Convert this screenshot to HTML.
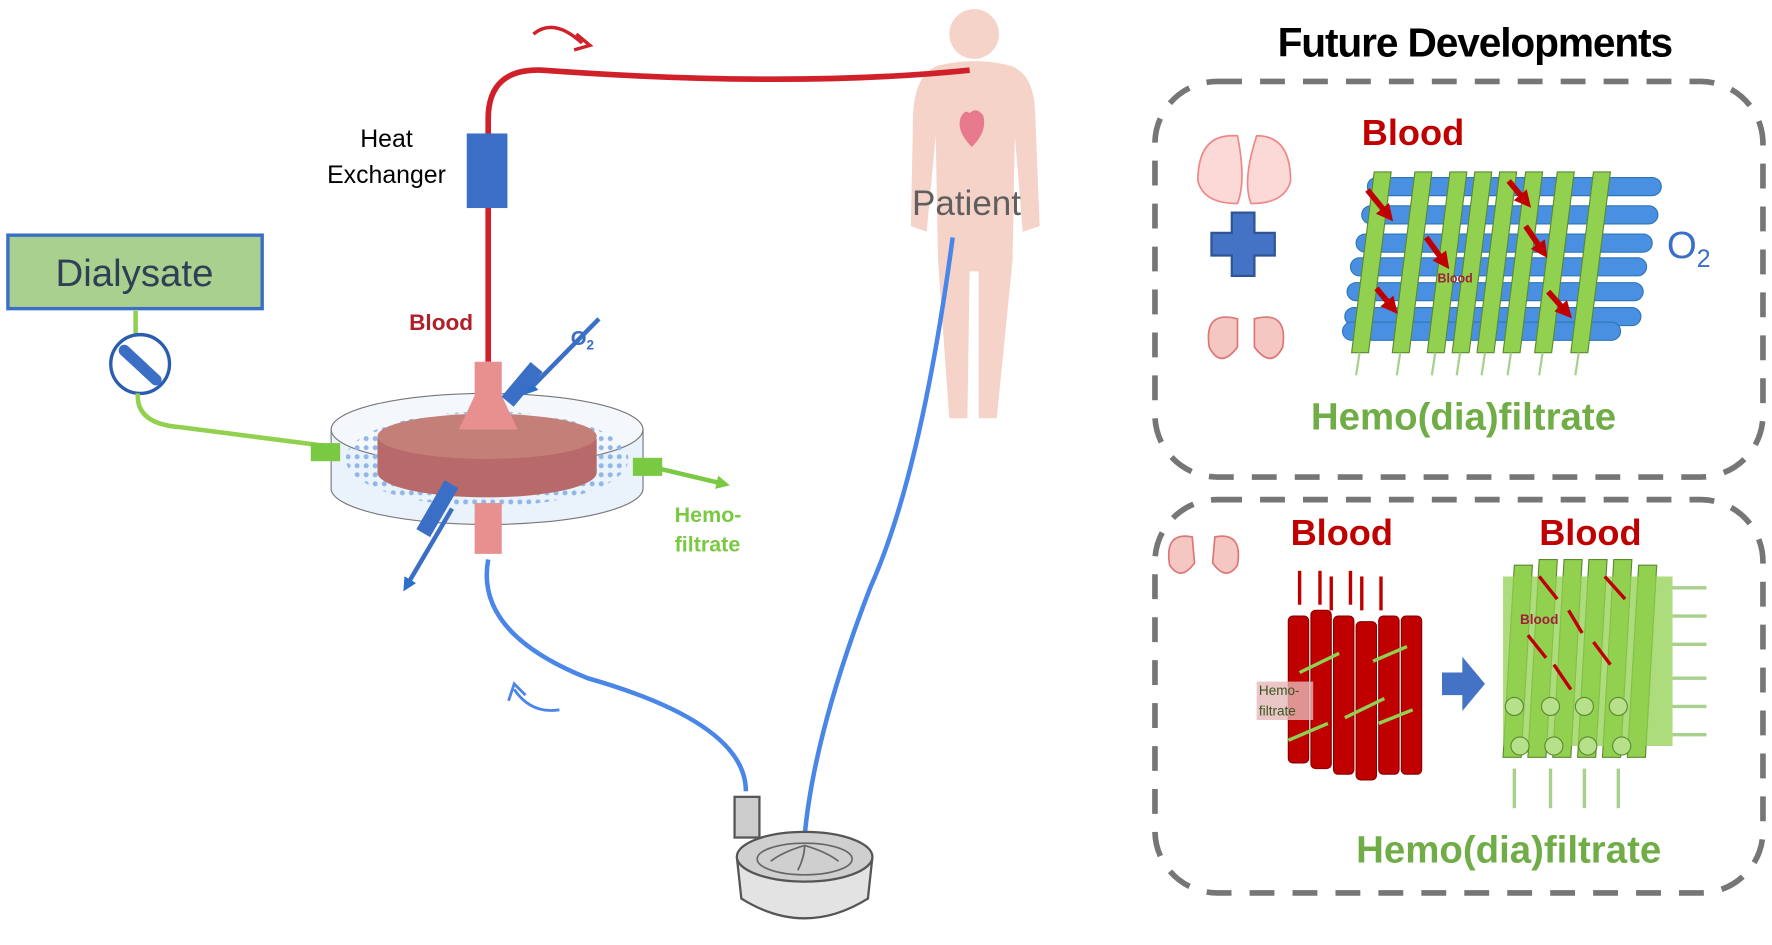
<!DOCTYPE html>
<html><head><meta charset="utf-8"><style>body{margin:0;background:#fff}svg{display:block}text{font-family:"Liberation Sans",sans-serif}</style></head><body>
<svg width="1772" height="945" viewBox="0 0 1568 836" xmlns="http://www.w3.org/2000/svg">
<defs>
<marker id="ab" markerWidth="3" markerHeight="3" refX="1.5" refY="1.5" orient="auto"><path d="M0,0L3,1.5L0,3z" fill="#2a6fc9"/></marker>
<marker id="ag" markerWidth="3" markerHeight="3" refX="1.5" refY="1.5" orient="auto"><path d="M0,0L3,1.5L0,3z" fill="#7ac943"/></marker>
<marker id="ar" markerWidth="3" markerHeight="3" refX="1.5" refY="1.5" orient="auto"><path d="M0,0L3,1.5L0,3z" fill="#c00000"/></marker>
<pattern id="dots" width="8" height="8" patternUnits="userSpaceOnUse"><circle cx="4" cy="4" r="2.2" fill="#8fb8e8"/></pattern>
</defs>
<!-- patient -->
<g fill="#f6d3c8">
<circle cx="862" cy="30" r="22"/>
<path d="M830,58 Q862,50 894,58 Q915,65 916,100 L920,200 L905,205 L898,120 L896,230 L882,370 L866,370 L866,240 L858,240 L856,370 L840,370 L830,230 L828,120 L820,205 L806,200 L808,100 Q810,65 830,58z"/>
</g>
<path d="M858,100 q6,-6 12,2 q4,14 -10,28 q-14,-14 -10,-26 q4,-8 8,-4z" fill="#e77b8d"/>
<text x="807" y="190" font-size="31" fill="#5f5f5f">Patient</text>
<!-- red tubing -->
<path d="M432,120 L432,105 Q432,60 480,62 Q700,78 858,62" fill="none" stroke="#d0202a" stroke-width="5"/>
<path d="M432,180 L432,320" stroke="#d0202a" stroke-width="5"/>
<rect x="413" y="118" width="36" height="66" fill="#3b6fc6"/>
<path d="M472,30 Q490,15 515,38" fill="none" stroke="#d0202a" stroke-width="3"/>
<path d="M510,30 L522,40 L508,44" fill="none" stroke="#d0202a" stroke-width="3"/>
<text x="342" y="130" font-size="22" text-anchor="middle">Heat</text>
<text x="342" y="162" font-size="22" text-anchor="middle">Exchanger</text>
<text x="362" y="292" font-size="20" font-weight="bold" fill="#b0202a">Blood</text>
<!-- blue tubing -->
<path d="M843,210 Q815,420 770,520 Q720,650 712,740" fill="none" stroke="#4a86e8" stroke-width="4"/>
<path d="M432,495 Q420,560 520,600 Q660,640 660,700" fill="none" stroke="#4a86e8" stroke-width="4"/>
<path d="M495,628 Q470,632 455,610" fill="none" stroke="#4a86e8" stroke-width="2.5"/>
<path d="M450,620 L455,605 L465,615" fill="none" stroke="#4a86e8" stroke-width="2.5"/>
<!-- pump -->
<path d="M652,758 L656,795 Q712,830 768,795 L772,758" fill="#e3e3e3" stroke="#555" stroke-width="2"/>
<ellipse cx="712" cy="758" rx="60" ry="22" fill="#cfcfcf" stroke="#555" stroke-width="2"/>
<ellipse cx="712" cy="760" rx="42" ry="14" fill="none" stroke="#666" stroke-width="1.5"/>
<path d="M712,748 q-20,6 -30,14 M712,748 q20,6 30,14 M712,748 q0,10 -6,22" fill="none" stroke="#666" stroke-width="1.5"/>
<rect x="650" y="705" width="22" height="36" fill="#ccc" stroke="#555" stroke-width="2"/>
<!-- Dialysate -->
<rect x="7" y="208" width="225" height="65" fill="#a9d08e" stroke="#3b6fc6" stroke-width="3"/>
<text x="119" y="253" font-size="34" text-anchor="middle" fill="#2f3f55">Dialysate</text>
<path d="M120,275 L120,300" stroke="#92d050" stroke-width="4"/>
<circle cx="124" cy="322" r="26" fill="#fff" stroke="#2a5db0" stroke-width="3"/>
<path d="M110,310 L138,336" stroke="#3b6fc6" stroke-width="10" stroke-linecap="round"/>
<path d="M122,348 Q120,375 160,378 L300,396" fill="none" stroke="#92d050" stroke-width="4"/>
<!-- device -->
<ellipse cx="431" cy="432" rx="138" ry="32" fill="#eaf2fb" stroke="#777"/>
<rect x="293" y="380" width="276" height="52" fill="#eaf2fb"/>
<ellipse cx="431" cy="380" rx="138" ry="32" fill="#f4f8fd" stroke="#777"/>
<ellipse cx="431" cy="406" rx="125" ry="42" fill="url(#dots)"/>
<line x1="293" y1="380" x2="293" y2="432" stroke="#777"/><line x1="569" y1="380" x2="569" y2="432" stroke="#777"/>
<ellipse cx="431" cy="418" rx="97" ry="22" fill="#b86a6a"/>
<rect x="334" y="388" width="194" height="30" fill="#b86a6a"/>
<ellipse cx="431" cy="386" rx="97" ry="20" fill="#c47f78"/>
<path d="M420,320 h24 v30 l14,30 h-52 l14,-30z" fill="#e8908f"/>
<rect x="420" y="445" width="24" height="45" fill="#e8908f"/>
<rect x="275" y="392" width="26" height="16" fill="#7ac943"/>
<rect x="560" y="405" width="26" height="16" fill="#7ac943"/>
<path d="M585,415 L640,428" stroke="#7ac943" stroke-width="4" marker-end="url(#ag)"/>
<path d="M530,282 L468,345" stroke="#3b6fc6" stroke-width="4" marker-end="url(#ab)"/>
<path d="M400,450 L360,518" stroke="#3b6fc6" stroke-width="4" marker-end="url(#ab)"/>
<rect x="380" y="425" width="14" height="50" fill="#3b6fc6" transform="rotate(30 387 450)"/>
<rect x="455" y="320" width="14" height="40" fill="#3b6fc6" transform="rotate(40 462 340)"/>
<text x="505" y="305" font-size="18" font-weight="bold" fill="#3b6fc6">O<tspan font-size="12" dy="4">2</tspan></text>
<text x="597" y="462" font-size="19" font-weight="bold" fill="#7ac943">Hemo-</text>
<text x="597" y="488" font-size="19" font-weight="bold" fill="#7ac943">filtrate</text>
<!-- right -->
<text x="1305" y="50" font-size="36" font-weight="bold" text-anchor="middle" letter-spacing="-1">Future Developments</text>
<rect x="1022" y="72" width="538" height="350" rx="55" fill="none" stroke="#767676" stroke-width="5" stroke-dasharray="22,16"/>
<rect x="1022" y="442" width="538" height="348" rx="55" fill="none" stroke="#767676" stroke-width="5" stroke-dasharray="22,16"/>
<text x="1205" y="128" font-size="32" font-weight="bold" fill="#c00000">Blood</text>
<text x="1475" y="228" font-size="34" fill="#3b6fc6">O<tspan font-size="22" dy="8">2</tspan></text>
<text x="1160" y="380" font-size="34" font-weight="bold" fill="#70ad47">Hemo(dia)filtrate</text>
<path d="M1090,120 q-30,0 -30,40 q5,20 35,20 q8,-20 0,-60z M1112,120 q30,0 30,40 q-5,20 -35,20 q-8,-20 5,-60z" fill="#fbd9d6" stroke="#e88" stroke-width="1.5"/>
<path d="M1090,188 h20 v18 h18 v20 h-18 v18 h-20 v-18 h-18 v-20 h18z" fill="#4472c4" stroke="#2f5597" stroke-width="2"/>
<path d="M1095,282 q-30,-8 -25,25 q10,20 25,0z M1110,282 q30,-8 25,25 q-10,20 -25,0z" fill="#f4c7c3" stroke="#d77" stroke-width="1.5"/>
<g stroke="#2e75b6" stroke-width="1">
<rect x="1210" y="157" width="260" height="16" rx="8" fill="#4a90e2"/>
<rect x="1205" y="182" width="262" height="16" rx="8" fill="#4a90e2"/>
<rect x="1200" y="207" width="262" height="16" rx="8" fill="#4a90e2"/>
<rect x="1195" y="228" width="262" height="16" rx="8" fill="#4a90e2"/>
<rect x="1192" y="250" width="262" height="16" rx="8" fill="#4a90e2"/>
<rect x="1190" y="272" width="262" height="16" rx="8" fill="#4a90e2"/>
<rect x="1188" y="285" width="246" height="16" rx="8" fill="#4a90e2"/>
</g>
<g fill="#92d050" stroke="#5a8a30" stroke-width="1">
<path d="M1216,152 l15,0 l-20,160 l-15,0z"/><path d="M1252,152 l15,0 l-20,160 l-15,0z"/>
<path d="M1283,152 l15,0 l-20,160 l-15,0z"/><path d="M1305,152 l15,0 l-20,160 l-15,0z"/>
<path d="M1327,152 l15,0 l-20,160 l-15,0z"/><path d="M1350,152 l15,0 l-20,160 l-15,0z"/>
<path d="M1378,152 l15,0 l-20,160 l-15,0z"/><path d="M1410,152 l15,0 l-20,160 l-15,0z"/>
</g>
<g stroke="#a9d18e" stroke-width="2"><path d="M1203,312 l-3,20"/><path d="M1239,312 l-3,20"/><path d="M1270,312 l-3,20"/><path d="M1292,312 l-3,20"/><path d="M1314,312 l-3,20"/><path d="M1337,312 l-3,20"/><path d="M1365,312 l-3,20"/><path d="M1397,312 l-3,20"/></g>
<g stroke="#c00000" stroke-width="5" marker-end="url(#ar)">
<path d="M1210,168 L1228,190"/><path d="M1262,210 L1278,232"/><path d="M1335,160 L1350,178"/><path d="M1218,255 L1232,272"/><path d="M1370,258 L1386,276"/><path d="M1350,200 L1365,222"/>
</g>
<text x="1272" y="250" font-size="11" font-weight="bold" fill="#a0203a">Blood</text>
<!-- bottom box -->
<text x="1142" y="482" font-size="32" font-weight="bold" fill="#c00000">Blood</text>
<text x="1362" y="482" font-size="32" font-weight="bold" fill="#c00000">Blood</text>
<path d="M1055,475 q-25,-5 -20,25 q10,15 22,-2z M1075,475 q25,-5 20,25 q-10,15 -22,-2z" fill="#f4c7c3" stroke="#d77" stroke-width="1.5"/>
<g fill="#c00000" stroke="#800" stroke-width="1">
<rect x="1140" y="545" width="18" height="130" rx="4"/><rect x="1160" y="540" width="18" height="140" rx="4"/><rect x="1180" y="545" width="18" height="140" rx="4"/><rect x="1200" y="550" width="18" height="140" rx="4"/><rect x="1220" y="545" width="18" height="140" rx="4"/><rect x="1240" y="545" width="18" height="140" rx="4"/>
</g>
<g stroke="#c00000" stroke-width="3"><path d="M1150,505 V535"/><path d="M1168,505 V535"/><path d="M1178,510 V540"/><path d="M1195,505 V535"/><path d="M1205,510 V540"/><path d="M1222,510 V540"/></g>
<g stroke="#92d050" stroke-width="3"><path d="M1150,595 L1185,578"/><path d="M1190,635 L1225,618"/><path d="M1140,655 L1175,640"/><path d="M1220,640 L1250,628"/><path d="M1215,585 L1245,572"/></g>
<rect x="1112" y="603" width="50" height="34" fill="#e6b8b8" opacity="0.8"/>
<text x="1114" y="615" font-size="12" fill="#375623">Hemo-</text>
<text x="1114" y="633" font-size="12" fill="#375623">filtrate</text>
<path d="M1276,595 h18 v-14 l20,24 l-20,24 v-14 h-18z" fill="#4472c4"/>
<g fill="#92d050" stroke="#5a8a30" stroke-width="1">
<path d="M1340,500 h16 l-10,170 h-16z"/><path d="M1362,495 h16 l-10,175 h-16z"/><path d="M1384,495 h16 l-10,175 h-16z"/><path d="M1406,495 h16 l-10,175 h-16z"/><path d="M1428,495 h16 l-10,175 h-16z"/><path d="M1450,500 h16 l-10,170 h-16z"/>
</g>
<rect x="1330" y="510" width="150" height="150" fill="#92d050" opacity="0.75"/>
<g stroke="#5a8a30" stroke-width="1" fill="#b6e08a"><circle cx="1340" cy="625" r="8"/><circle cx="1372" cy="625" r="8"/><circle cx="1402" cy="625" r="8"/><circle cx="1432" cy="625" r="8"/><circle cx="1345" cy="660" r="8"/><circle cx="1375" cy="660" r="8"/><circle cx="1405" cy="660" r="8"/><circle cx="1435" cy="660" r="8"/></g>
<g stroke="#a9d18e" stroke-width="3"><path d="M1340,680 V715"/><path d="M1372,680 V715"/><path d="M1402,680 V715"/><path d="M1432,680 V715"/><path d="M1480,520 H1510"/><path d="M1480,545 H1510"/><path d="M1480,570 H1510"/><path d="M1480,600 H1510"/><path d="M1480,625 H1510"/><path d="M1480,650 H1510"/></g>
<g stroke="#c00000" stroke-width="3"><path d="M1362,510 L1378,530"/><path d="M1420,510 L1438,530"/><path d="M1388,540 L1400,560"/><path d="M1352,562 L1368,582"/><path d="M1410,568 L1425,588"/><path d="M1375,588 L1390,610"/></g>
<text x="1345" y="552" font-size="12" font-weight="bold" fill="#a0203a">Blood</text>
<text x="1200" y="763" font-size="34" font-weight="bold" fill="#70ad47">Hemo(dia)filtrate</text>
</svg>
</body></html>
